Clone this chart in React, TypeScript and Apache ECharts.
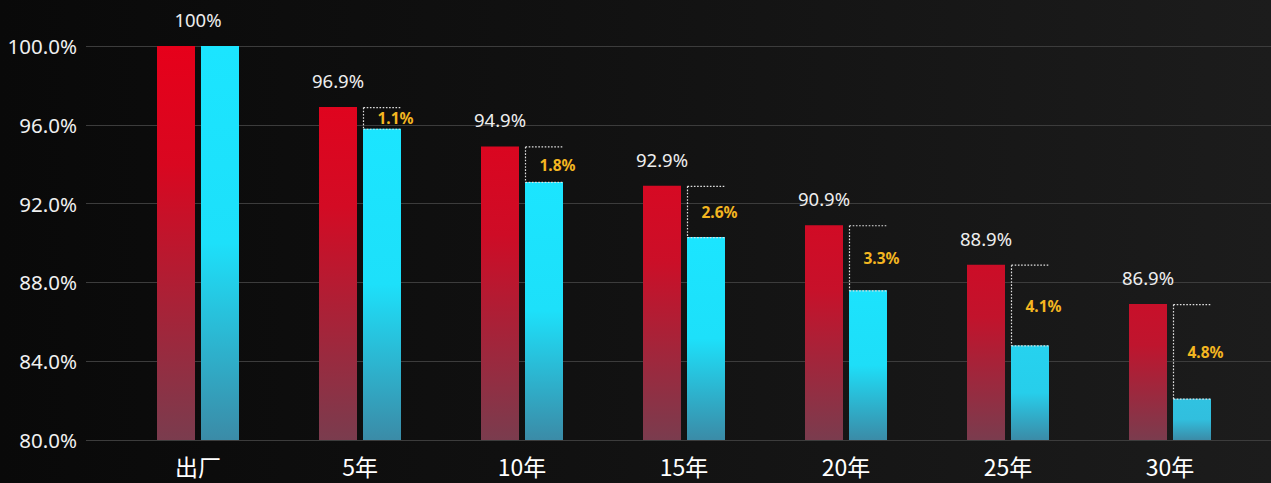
import React, { useEffect, useRef } from "react";
import * as echarts from "echarts";

const categories = ["出厂", "5年", "10年", "15年", "20年", "25年", "30年"];
const redValues = [100, 96.9, 94.9, 92.9, 90.9, 88.9, 86.9];
const cyanValues = [100, 95.8, 93.1, 90.3, 87.6, 84.8, 82.1];
const yMin = 80;
const yMax = 100;
const yInterval = 4;

const BAR_WIDTH = 38;
const BAR_GAP = 6;
const PLOT_TOP = 46;
const PLOT_BOTTOM = 43;

function hexToRgb(h: string) {
  const n = parseInt(h.slice(1), 16);
  return [(n >> 16) & 255, (n >> 8) & 255, n & 255];
}
function mix(a: string, b: string, t: number) {
  const A = hexToRgb(a);
  const B = hexToRgb(b);
  const k = Math.max(0, Math.min(1, t));
  const c = A.map((x, i) => Math.round(x + (B[i] - x) * k));
  return `rgb(${c[0]},${c[1]},${c[2]})`;
}
function toHex(rgb: string) {
  const m = rgb.match(/\d+/g)!.map(Number);
  return "#" + m.map((x) => x.toString(16).padStart(2, "0")).join("");
}

const RED_TOP = "#e6001a";
const RED_TOP_LOW = "#b81832";
const RED_BOTTOM = "#7a3c4e";
const CYAN_TOP = "#1be5ff";
const CYAN_TOP_LOW = "#34bcdb";
const CYAN_BOTTOM = "#3b8ba7";

function redGradient(v: number) {
  const t = (yMax - v) / (yMax - yMin);
  const top = toHex(mix(RED_TOP, RED_TOP_LOW, t));
  return new echarts.graphic.LinearGradient(0, 0, 0, 1, [
    { offset: 0, color: top },
    { offset: 0.3, color: mix(top, RED_BOTTOM, 0.12) },
    { offset: 1, color: RED_BOTTOM },
  ]);
}
function cyanGradient(v: number) {
  const t = (yMax - v) / (yMax - yMin);
  const top = toHex(mix(CYAN_TOP, CYAN_TOP_LOW, (t - 0.6) / 0.35));
  return new echarts.graphic.LinearGradient(0, 0, 0, 1, [
    { offset: 0, color: top },
    { offset: 0.5, color: mix(top, CYAN_BOTTOM, 0.06) },
    { offset: 1, color: CYAN_BOTTOM },
  ]);
}

export default function App() {
  const ref = useRef<HTMLDivElement>(null);

  useEffect(() => {
    if (!ref.current) return;
    const chart = echarts.init(ref.current, undefined, { renderer: "svg" });

    const bracketData = categories
      .map((_, i) => [i, redValues[i], cyanValues[i]])
      .filter((d) => d[1] !== d[2]);

    chart.setOption({
      animation: false,
      backgroundColor: "transparent",
      grid: [
        { left: 86, right: 0, top: PLOT_TOP, bottom: PLOT_BOTTOM },
        { left: 117, right: 20, top: PLOT_TOP, bottom: PLOT_BOTTOM },
      ],
      xAxis: [
        { type: "value", gridIndex: 0, show: false, min: 0, max: 1 },
        {
          type: "category",
          gridIndex: 1,
          data: categories,
          axisLine: { show: false },
          axisTick: { show: false },
          axisLabel: {
            color: "#ffffff",
            fontSize: 23,
            margin: 14,
            fontFamily: "'Noto Sans CJK SC', 'Noto Sans', sans-serif",
          },
        },
      ],
      yAxis: [
        {
          type: "value",
          gridIndex: 0,
          min: yMin,
          max: yMax,
          interval: yInterval,
          axisLine: { show: false },
          axisTick: { show: false },
          axisLabel: {
            color: "#f0f0f0",
            fontSize: 20.5,
            margin: 9,
            fontFamily: "'Noto Sans', sans-serif",
            formatter: (v: number) => v.toFixed(1) + "%",
          },
          splitLine: { show: true, lineStyle: { color: "#3c3c3c", width: 1.2 } },
        },
        {
          type: "value",
          gridIndex: 1,
          min: yMin,
          max: yMax,
          show: false,
          splitLine: { show: false },
        },
      ],
      series: [
        {
          type: "bar",
          name: "红色",
          xAxisIndex: 1,
          yAxisIndex: 1,
          barWidth: BAR_WIDTH,
          barGap: (BAR_GAP / BAR_WIDTH) * 100 + "%",
          label: {
            show: true,
            position: "top",
            distance: 17,
            color: "#eeeeee",
            fontSize: 18.5,
            fontFamily: "'Noto Sans', sans-serif",
            formatter: "{c}%",
          },
          data: redValues.map((v, i) => ({
            value: v,
            itemStyle: { color: redGradient(v) },
            ...(i === 0 ? { label: { offset: [(BAR_WIDTH + BAR_GAP) / 2, 0] } } : {}),
          })),
        },
        {
          type: "bar",
          name: "青色",
          xAxisIndex: 1,
          yAxisIndex: 1,
          barWidth: BAR_WIDTH,
          data: cyanValues.map((v) => ({ value: v, itemStyle: { color: cyanGradient(v) } })),
        },
        {
          type: "custom",
          xAxisIndex: 1,
          yAxisIndex: 1,
          z: 5,
          data: bracketData,
          renderItem: (params: any, api: any) => {
            const idx = api.value(0);
            const pr = api.coord([idx, api.value(1)]);
            const pc = api.coord([idx, api.value(2)]);
            const left = pr[0] + BAR_GAP / 2 + 0.5;
            const right = pr[0] + BAR_GAP / 2 + BAR_WIDTH;
            const yr = pr[1] + 0.5;
            const yc = pc[1] + 0.5;
            const diff = (api.value(1) - api.value(2)).toFixed(1) + "%";
            const lineStyle = {
              stroke: "#e0e0e0",
              lineWidth: 1.2,
              lineDash: [1.6, 1.6],
            };
            return {
              type: "group",
              children: [
                { type: "line", shape: { x1: left, y1: yr, x2: right, y2: yr }, style: lineStyle },
                { type: "line", shape: { x1: left, y1: yr, x2: left, y2: yc }, style: lineStyle },
                { type: "line", shape: { x1: left, y1: yc, x2: right, y2: yc }, style: lineStyle },
                {
                  type: "text",
                  style: {
                    text: diff,
                    x: left + 14,
                    y: (yr + yc) / 2,
                    fill: "#f4b621",
                    fontSize: 15.5,
                    fontWeight: "bold",
                    fontFamily: "'Noto Sans', sans-serif",
                    verticalAlign: "middle",
                    align: "left",
                  },
                },
              ],
            };
          },
        },
      ],
    });

    return () => chart.dispose();
  }, []);

  return (
    <div
      style={{
        position: "fixed",
        left: 0,
        top: 0,
        width: 1271,
        height: 483,
        background: "linear-gradient(90deg, #090909 0%, #111111 45%, #1c1c1c 100%)",
      }}
    >
      <div ref={ref} style={{ width: 1271, height: 483 }} />
    </div>
  );
}
